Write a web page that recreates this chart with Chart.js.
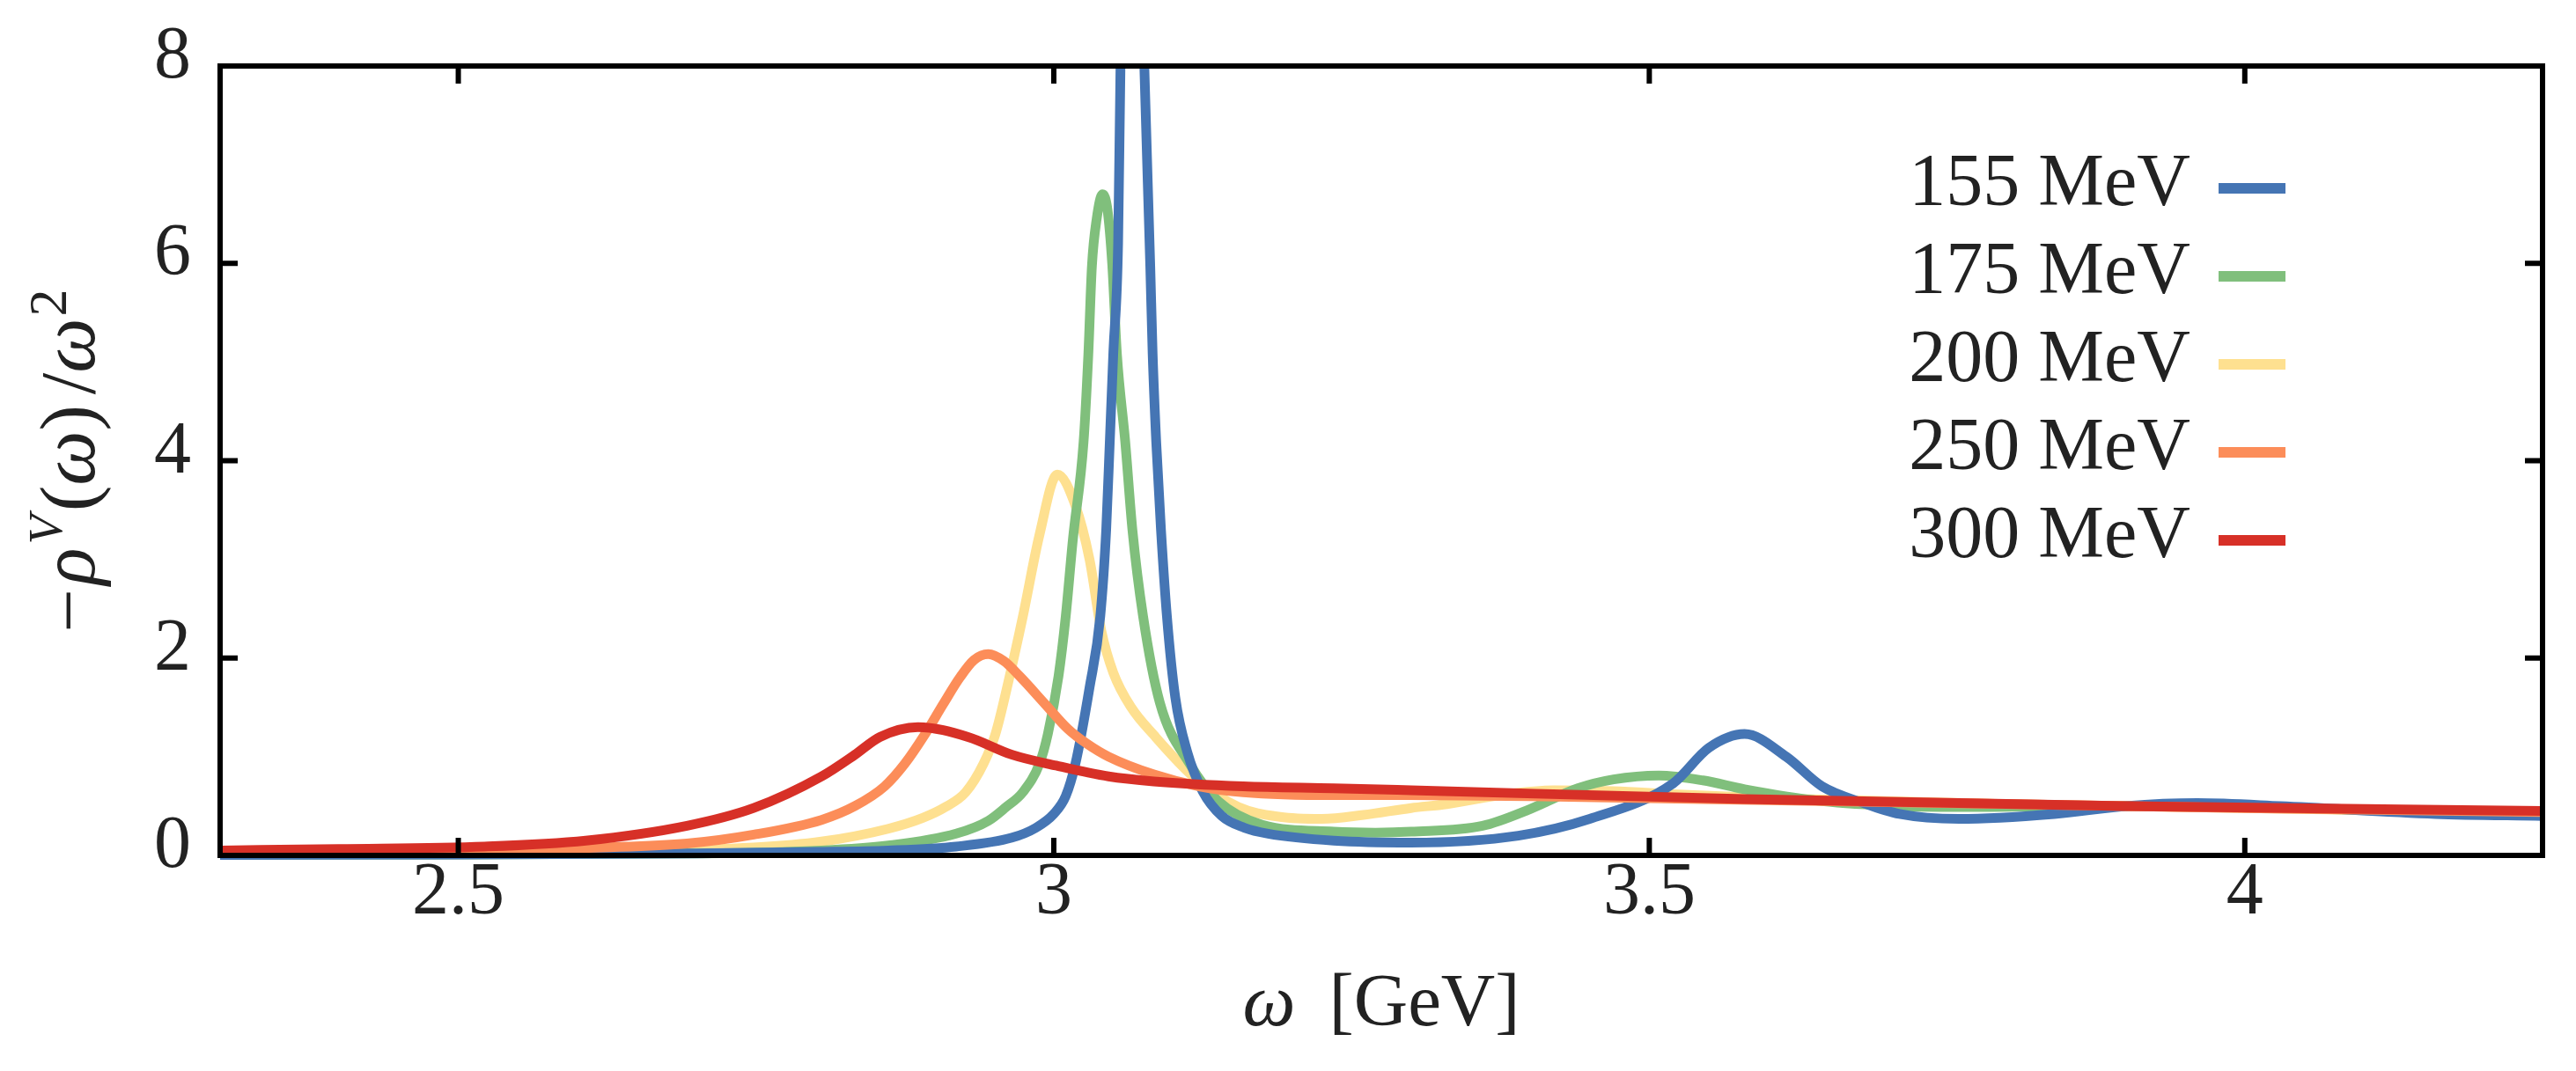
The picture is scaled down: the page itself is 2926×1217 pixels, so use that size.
<!DOCTYPE html>
<html>
<head>
<meta charset="utf-8">
<script src="https://cdn.jsdelivr.net/npm/chart.js@4.4.1/dist/chart.umd.min.js"></script>
<style>
  html, body { margin: 0; padding: 0; background: #fff; }
  #wrap { width: 2926px; height: 1217px; }
</style>
</head>
<body>
<div id="wrap"><canvas id="chart"></canvas></div>
<script>
// omega in GeV, values are -rho^V(omega)/omega^2
const seriesLabels = ['155 MeV', '175 MeV', '200 MeV', '250 MeV', '300 MeV'];
const seriesColors = ['#4575b4', '#80bf7c', '#fee090', '#fc8d59', '#d73027'];

const omega155 = [2.30, 2.50, 2.70, 2.80, 2.861, 2.918, 2.965, 2.985, 3.00, 3.010, 3.018, 3.030, 3.039, 3.044, 3.047, 3.050, 3.054, 3.056, 3.060, 3.066, 3.071, 3.076, 3.081, 3.083, 3.086, 3.090, 3.095, 3.102, 3.112, 3.125, 3.141, 3.16, 3.18, 3.235, 3.30, 3.39, 3.45, 3.52, 3.55, 3.58, 3.615, 3.645, 3.68, 3.71, 3.76, 3.84, 3.90, 3.96, 4.03, 4.16, 4.25];
const rho155   = [0.005, 0.008, 0.02, 0.035, 0.05, 0.09, 0.18, 0.28, 0.42, 0.60, 0.92, 1.7, 2.42, 3.30, 4.19, 5.1, 6.2, 8.0, 10.5, 11.5, 10.5, 8.0, 5.97, 5.08, 4.19, 3.30, 2.42, 1.60, 1.05, 0.65, 0.40, 0.28, 0.22, 0.15, 0.13, 0.20, 0.37, 0.73, 1.09, 1.23, 1.0, 0.70, 0.53, 0.42, 0.37, 0.42, 0.50, 0.53, 0.50, 0.42, 0.40];

const omega175 = [2.30, 2.50, 2.70, 2.805, 2.861, 2.918, 2.945, 2.960, 2.974, 2.988, 2.995, 3.004, 3.010, 3.016, 3.025, 3.029, 3.032, 3.036, 3.041, 3.045, 3.049, 3.053, 3.060, 3.066, 3.075, 3.089, 3.114, 3.138, 3.175, 3.235, 3.27, 3.30, 3.36, 3.40, 3.44, 3.47, 3.508, 3.545, 3.58, 3.645, 3.71, 3.77, 3.85, 3.95, 4.10, 4.25];
const rho175   = [0.005, 0.01, 0.02, 0.05, 0.10, 0.22, 0.35, 0.49, 0.64, 0.93, 1.23, 1.82, 2.42, 3.20, 4.19, 5.08, 5.97, 6.45, 6.70, 6.55, 6.0, 5.08, 4.19, 3.30, 2.42, 1.55, 0.93, 0.55, 0.31, 0.24, 0.23, 0.24, 0.30, 0.47, 0.68, 0.77, 0.81, 0.76, 0.67, 0.55, 0.50, 0.49, 0.50, 0.50, 0.46, 0.42];

const omega200 = [2.30, 2.50, 2.62, 2.748, 2.805, 2.861, 2.890, 2.909, 2.926, 2.941, 2.951, 2.963, 2.974, 2.988, 3.003, 3.018, 3.030, 3.040, 3.050, 3.065, 3.084, 3.118, 3.155, 3.19, 3.225, 3.26, 3.30, 3.33, 3.38, 3.42, 3.47, 3.52, 3.60, 3.80, 4.00, 4.25];
const rho200   = [0.015, 0.025, 0.04, 0.08, 0.14, 0.27, 0.38, 0.49, 0.64, 0.93, 1.23, 1.82, 2.42, 3.25, 3.86, 3.55, 3.0, 2.27, 1.85, 1.50, 1.22, 0.79, 0.49, 0.39, 0.37, 0.41, 0.48, 0.52, 0.62, 0.66, 0.65, 0.62, 0.58, 0.52, 0.48, 0.43];

const omega250 = [2.30, 2.45, 2.55, 2.62, 2.692, 2.748, 2.805, 2.833, 2.858, 2.875, 2.892, 2.907, 2.921, 2.933, 2.945, 2.958, 2.971, 2.993, 3.012, 3.028, 3.046, 3.084, 3.122, 3.159, 3.235, 3.30, 3.40, 3.50, 3.70, 4.00, 4.25];
const rho250   = [0.025, 0.04, 0.06, 0.08, 0.12, 0.21, 0.36, 0.50, 0.70, 0.93, 1.23, 1.53, 1.80, 1.98, 2.04, 1.97, 1.82, 1.53, 1.28, 1.13, 1.00, 0.82, 0.70, 0.64, 0.61, 0.61, 0.60, 0.58, 0.54, 0.48, 0.44];

const omega300 = [2.30, 2.40, 2.522, 2.607, 2.692, 2.748, 2.805, 2.833, 2.854, 2.886, 2.928, 2.965, 3.002, 3.046, 3.084, 3.159, 3.235, 3.30, 3.58, 3.90, 4.25];
const rho300   = [0.05, 0.065, 0.09, 0.15, 0.30, 0.48, 0.80, 1.02, 1.20, 1.30, 1.20, 1.02, 0.91, 0.80, 0.75, 0.70, 0.68, 0.66, 0.57, 0.50, 0.45];

const xTickValues = [2.5, 3, 3.5, 4];
const yTickValues = [0, 2, 4, 6, 8];

const SERIF = '"Liberation Serif", "DejaVu Serif", serif';
const INK = '#222';

function mapToXY(xData, yData) {
    return xData.map((x, i) => ({ x, y: yData[i] }));
}

// red drawn on top, then orange, blue, green, yellow
const drawOrder = [3, 4, 5, 2, 1];

function lineDataset(i, data) {
    return {
        label: seriesLabels[i],
        data,
        borderColor: seriesColors[i],
        backgroundColor: seriesColors[i],
        borderWidth: 11,
        pointRadius: 0,
        fill: false,
        cubicInterpolationMode: 'monotone',
        clip: { left: 0, top: 0, right: 0, bottom: 8 },
        order: drawOrder[i],
    };
}

// draw a run of text pieces (italic / super-script) centred on 0
function drawRich(ctx, parts, size) {
    const fontOf = p => (p.i ? 'italic ' : '') + Math.round(size * (p.s || 1)) + 'px ' + SERIF;
    let total = 0;
    parts.forEach(p => {
        ctx.font = fontOf(p);
        total += ctx.measureText(p.t).width + (p.gap || 0);
    });
    let x = -total / 2;
    parts.forEach(p => {
        ctx.font = fontOf(p);
        ctx.fillText(p.t, x, -(p.r || 0) * size);
        x += ctx.measureText(p.t).width + (p.gap || 0);
    });
}

const framePlugin = {
    id: 'frame',
    afterDatasetsDraw(chart) {
        const { ctx, chartArea: a, scales } = chart;
        ctx.save();
        ctx.strokeStyle = '#000';
        ctx.lineWidth = 6;
        ctx.lineCap = 'butt';
        ctx.strokeRect(a.left, a.top, a.right - a.left, a.bottom - a.top);
        const tl = 20;
        ctx.beginPath();
        xTickValues.forEach(v => {
            const px = scales.x.getPixelForValue(v);
            ctx.moveTo(px, a.bottom); ctx.lineTo(px, a.bottom - tl);
            ctx.moveTo(px, a.top); ctx.lineTo(px, a.top + tl);
        });
        yTickValues.slice(1, -1).forEach(v => {
            const py = scales.y.getPixelForValue(v);
            ctx.moveTo(a.left, py); ctx.lineTo(a.left + tl, py);
            ctx.moveTo(a.right, py); ctx.lineTo(a.right - tl, py);
        });
        ctx.stroke();
        ctx.restore();
    },
    afterDraw(chart) {
        const { ctx, chartArea: a } = chart;
        ctx.save();
        ctx.fillStyle = INK;
        ctx.textBaseline = 'alphabetic';

        // legend: label on the left, line sample on the right
        ctx.textAlign = 'right';
        ctx.font = '84px ' + SERIF;
        chart.data.datasets.forEach((ds, i) => {
            const y = a.top + 139 + i * 100;
            ctx.fillStyle = INK;
            ctx.fillText(ds.label, a.right - 400, y + 19);
            ctx.strokeStyle = ds.borderColor;
            ctx.lineWidth = 12;
            ctx.beginPath();
            ctx.moveTo(a.right - 368, y);
            ctx.lineTo(a.right - 292, y);
            ctx.stroke();
        });

        // x axis title
        ctx.textAlign = 'left';
        ctx.fillStyle = INK;
        ctx.save();
        ctx.translate((a.left + a.right) / 2, 1165);
        drawRich(ctx, [{ t: 'ω', i: true, gap: 38 }, { t: '[GeV]' }], 85);
        ctx.restore();

        // y axis title
        ctx.save();
        ctx.translate(107, (a.top + a.bottom) / 2);
        ctx.rotate(-Math.PI / 2);
        drawRich(ctx, [
            { t: '−', gap: 4 },
            { t: 'ρ', i: true, gap: 4 },
            { t: 'V', i: true, s: 0.62, r: 0.42, gap: 4 },
            { t: '(' },
            { t: 'ω', i: true },
            { t: ')', gap: 12 },
            { t: '/' },
            { t: 'ω', i: true, gap: 2 },
            { t: '2', s: 0.7, r: 0.36 },
        ], 88);
        ctx.restore();

        ctx.restore();
    },
};

new Chart(document.getElementById('chart'), {
    type: 'line',
    data: {
        datasets: [
            lineDataset(0, mapToXY(omega155, rho155)),
            lineDataset(1, mapToXY(omega175, rho175)),
            lineDataset(2, mapToXY(omega200, rho200)),
            lineDataset(3, mapToXY(omega250, rho250)),
            lineDataset(4, mapToXY(omega300, rho300)),
        ],
    },
    options: {
        responsive: true,
        maintainAspectRatio: false,
        animation: false,
        devicePixelRatio: 1,
        layout: { padding: { top: 71, right: 38, left: 0, bottom: 0 } },
        plugins: {
            legend: { display: false },
            tooltip: { enabled: false },
            title: { display: false },
        },
        scales: {
            x: {
                type: 'linear',
                min: 2.3,
                max: 4.25,
                afterFit: s => { s.height = 245; },
                afterBuildTicks: s => { s.ticks = xTickValues.map(value => ({ value })); },
                grid: { display: false, drawTicks: false },
                border: { display: false },
                ticks: {
                    color: INK,
                    padding: 2,
                    maxRotation: 0,
                    font: { family: SERIF, size: 84, lineHeight: 1 },
                    callback: v => String(v),
                },
            },
            y: {
                type: 'linear',
                min: 0,
                max: 8,
                afterFit: s => { s.width = 250; },
                afterBuildTicks: s => { s.ticks = yTickValues.map(value => ({ value })); },
                grid: { display: false, drawTicks: false },
                border: { display: false },
                ticks: {
                    color: INK,
                    padding: 33,
                    labelOffset: -9,
                    font: { family: SERIF, size: 84, lineHeight: 1 },
                    callback: v => String(v),
                },
            },
        },
    },
    plugins: [framePlugin],
});
</script>
</body>
</html>
